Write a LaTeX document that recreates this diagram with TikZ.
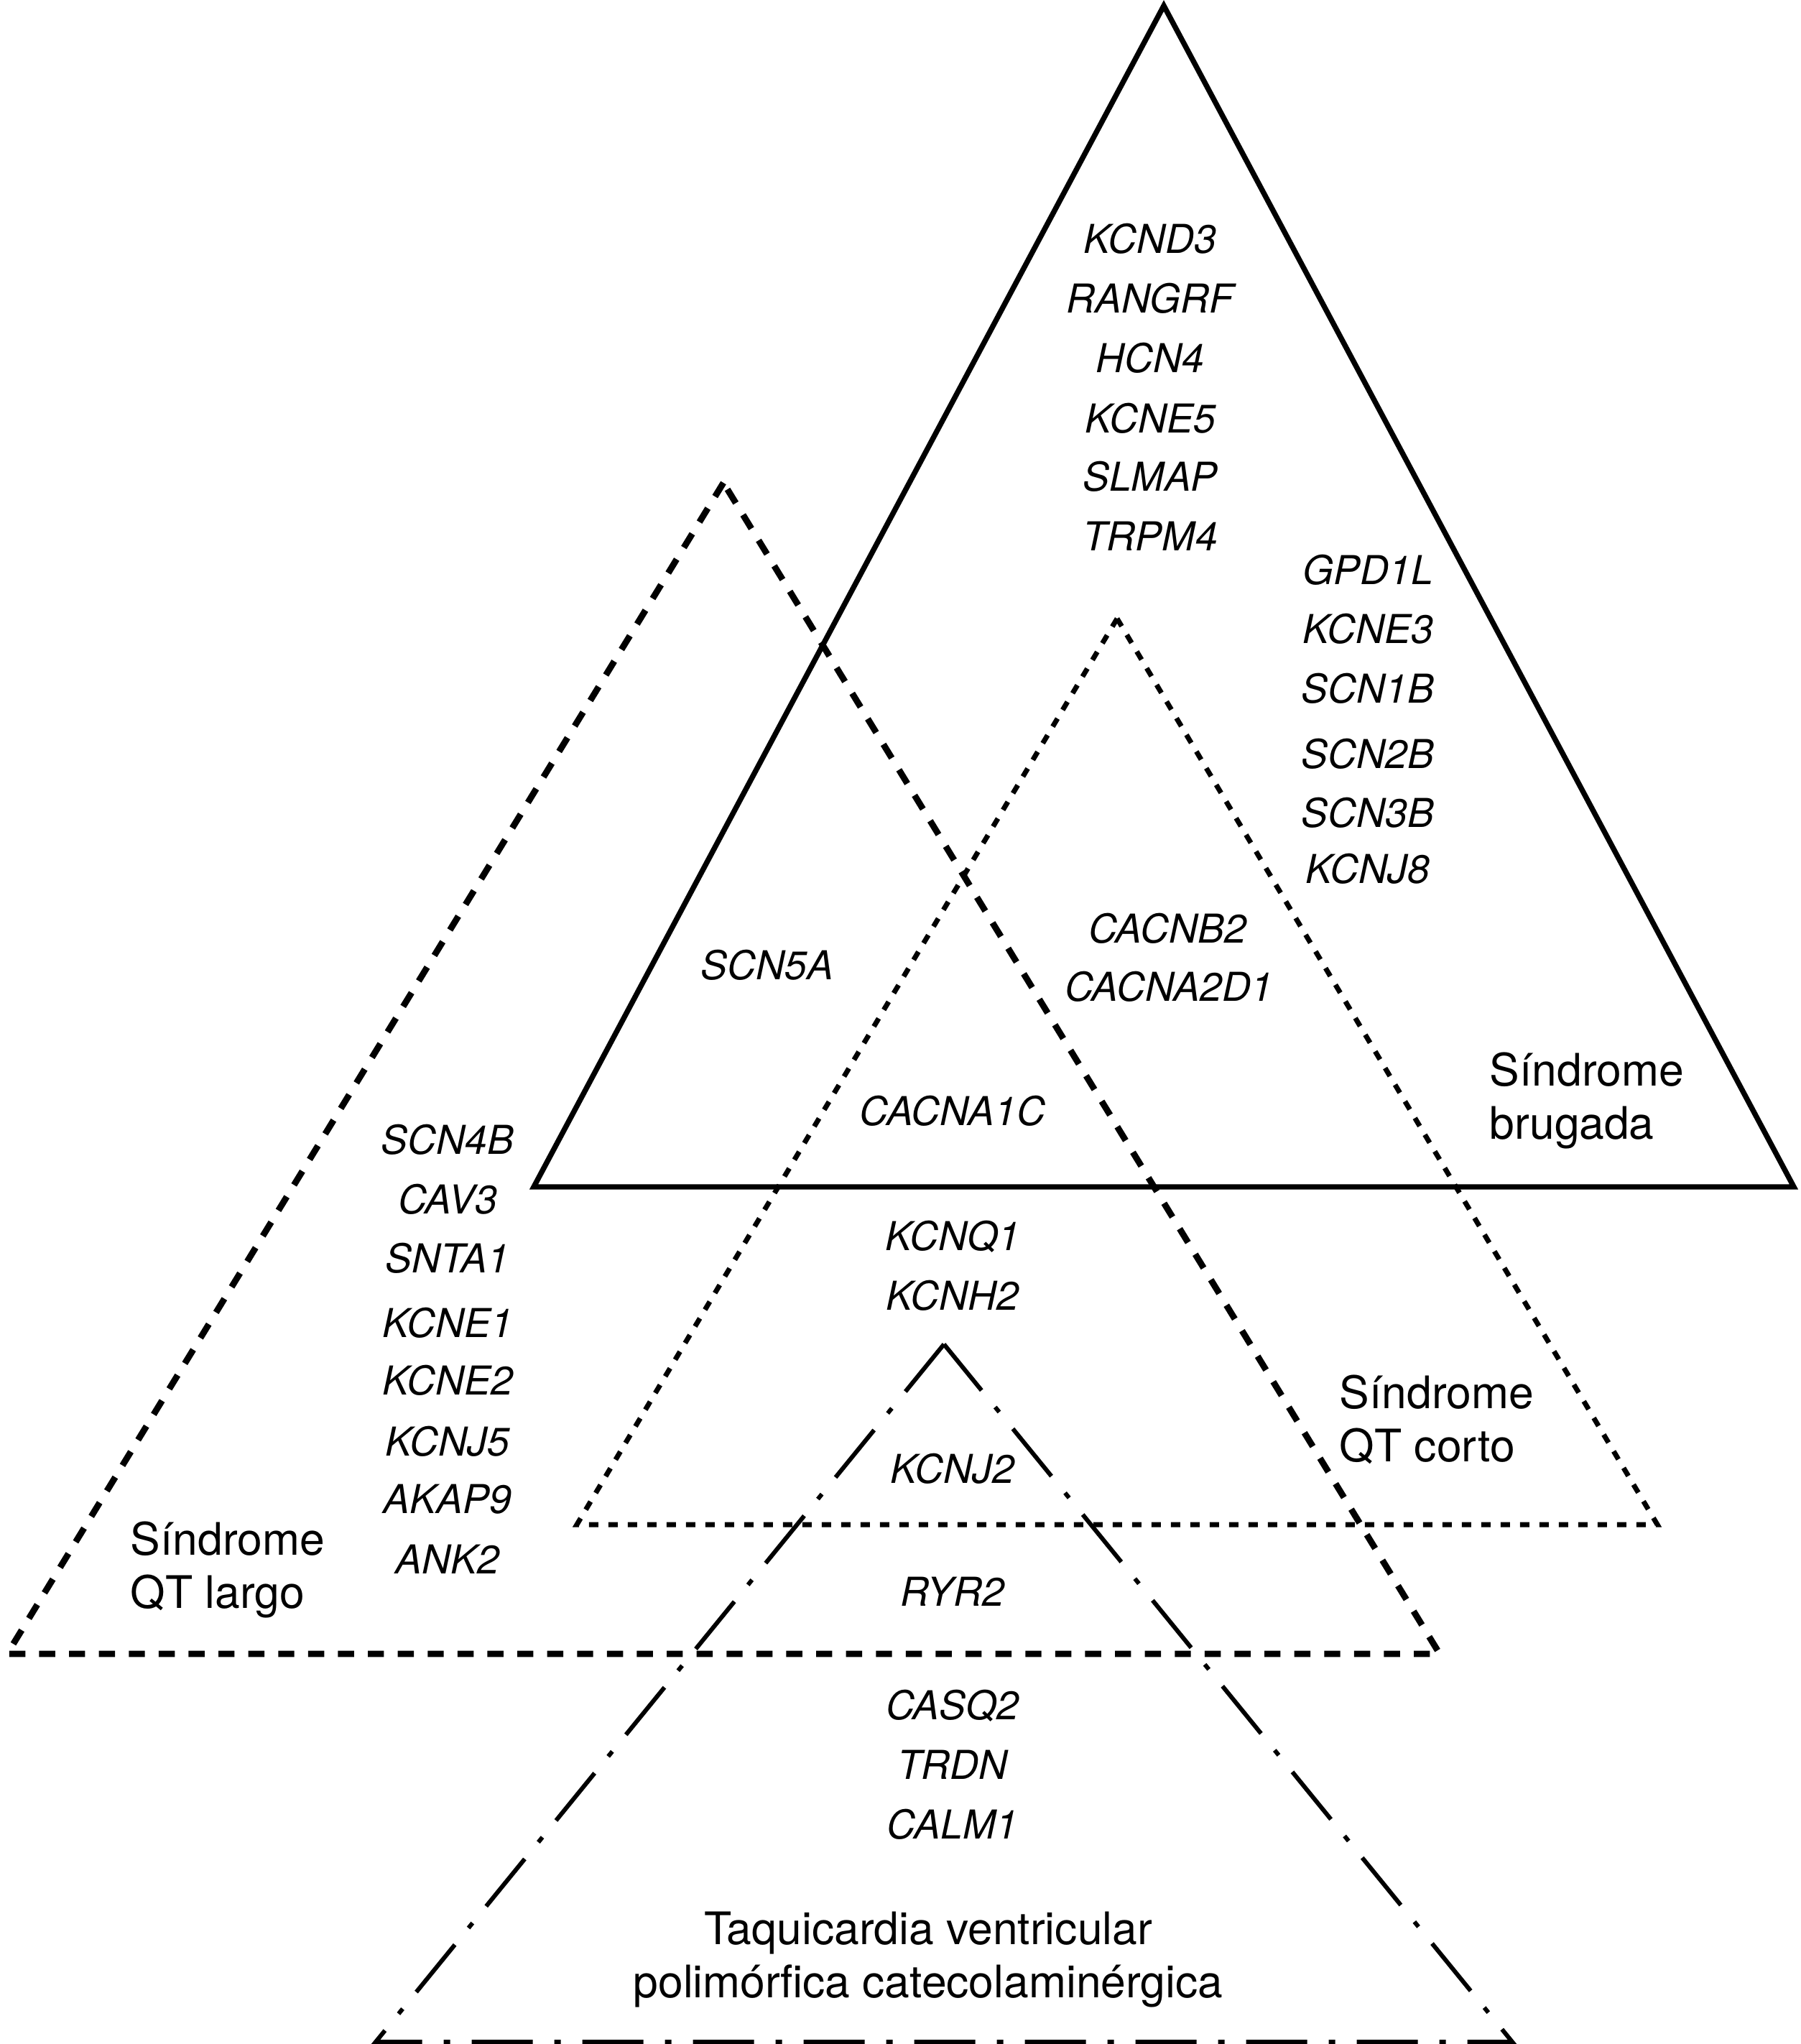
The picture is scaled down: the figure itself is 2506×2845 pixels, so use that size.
\documentclass[tikz,border=0pt]{standalone}
\usepackage{fontspec}
\setmainfont{TeX Gyre Heros}
\begin{document}
\begin{tikzpicture}[x=0.25pt,y=-0.25pt,
  solidtri/.style={draw=black,line width=1.85pt,line join=miter},
  qtlargo/.style={draw=black,line width=2.2pt,dash pattern=on 5.6pt off 4.8pt,line join=miter},
  qtcorto/.style={draw=black,line width=1.75pt,dash pattern=on 3.25pt off 3.5pt,line join=miter},
  cpvt/.style={draw=black,line width=1.5pt,dash pattern=on 21.25pt off 7.5pt on 2.25pt off 7.5pt,line join=miter},
  gene/.style={font=\fontsize{13.85}{16}\selectfont\itshape,inner sep=0pt,anchor=base},
  lbl/.style={font=\fontsize{15.6}{18.5}\selectfont,inner sep=0pt,anchor=base west},
  lblc/.style={font=\fontsize{15.6}{18.5}\selectfont,inner sep=0pt,anchor=base}]
\useasboundingbox (0,0) rectangle (2506,2845);

% vertices
\coordinate (bA) at (1620,8);
\coordinate (bL) at (743,1652);
\coordinate (bR) at (2497,1652);
\coordinate (lA) at (1007,672);
\coordinate (lL) at (10,2302);
\coordinate (lR) at (2004,2302);
\coordinate (cA) at (1555,861);
\coordinate (cL) at (803,2122);
\coordinate (cR) at (2307,2122);
\coordinate (tA) at (1314,1871);
\coordinate (tL) at (523,2842);
\coordinate (tR) at (2105,2842);

\draw[solidtri] (bA) -- (bL) -- (bR) -- cycle;
\draw[qtlargo] (lA) -- (lL) -- (lR) -- cycle;
\draw[qtcorto] (cA) -- (cL) -- (cR) -- cycle;
\draw[cpvt] (tA) -- (tL) -- (tR) -- cycle;

% Brugada genes
\node[gene] (kcnd3) at (1601,353) {KCND3};
\node[gene] (rangrf) at (1601,436) {RANGRF};
\node[gene] (hcn4) at (1601,519) {HCN4};
\node[gene] (kcne5) at (1601,603) {KCNE5};
\node[gene] (slmap) at (1601,684) {SLMAP};
\node[gene] (trpm4) at (1601,766) {TRPM4};

\node[gene] (gpd1l) at (1904,813) {GPD1L};
\node[gene] (kcne3) at (1904,895) {KCNE3};
\node[gene] (scn1b) at (1904,978) {SCN1B};
\node[gene] (scn2b) at (1904,1069) {SCN2B};
\node[gene] (scn3b) at (1904,1151) {SCN3B};
\node[gene] (kcnj8) at (1904,1229) {KCNJ8};

\node[gene] (cacnb2) at (1625,1312) {CACNB2};
\node[gene] (cacna2d1) at (1627,1393) {CACNA2D1};
\node[gene] (scn5a) at (1068,1363) {SCN5A};
\node[gene] (cacna1c) at (1326,1566) {CACNA1C};

% QT largo genes
\node[gene] (scn4b) at (623,1606) {SCN4B};
\node[gene] (cav3) at (623,1689) {CAV3};
\node[gene] (snta1) at (623,1771) {SNTA1};
\node[gene] (kcne1) at (623,1861) {KCNE1};
\node[gene] (kcne2) at (623,1941) {KCNE2};
\node[gene] (kcnj5) at (623,2026) {KCNJ5};
\node[gene] (akap9) at (623,2106) {AKAP9};
\node[gene] (ank2) at (623,2190) {ANK2};

% central genes
\node[gene] (kcnq1) at (1326,1740) {KCNQ1};
\node[gene] (kcnh2) at (1326,1823) {KCNH2};
\node[gene] (kcnj2) at (1326,2064) {KCNJ2};
\node[gene] (ryr2) at (1326,2235) {RYR2};
\node[gene] (casq2) at (1326,2393) {CASQ2};
\node[gene] (trdn) at (1326,2476) {TRDN};
\node[gene] (calm1) at (1326,2559) {CALM1};

% labels
\node[lbl] (brugada) at (2073,1511) {\begin{tabular}[t]{@{}l@{}}Síndrome\\brugada\end{tabular}};
\node[lbl] (corto) at (1864,1960) {\begin{tabular}[t]{@{}l@{}}Síndrome\\QT corto\end{tabular}};
\node[lbl] (largo) at (181,2164) {\begin{tabular}[t]{@{}l@{}}Síndrome\\QT largo\end{tabular}};
\node[lblc] (taqui) at (1292,2706) {\begin{tabular}[t]{@{}c@{}}Taquicardia ventricular\\polimórfica catecolaminérgica\end{tabular}};
\end{tikzpicture}
\end{document}
